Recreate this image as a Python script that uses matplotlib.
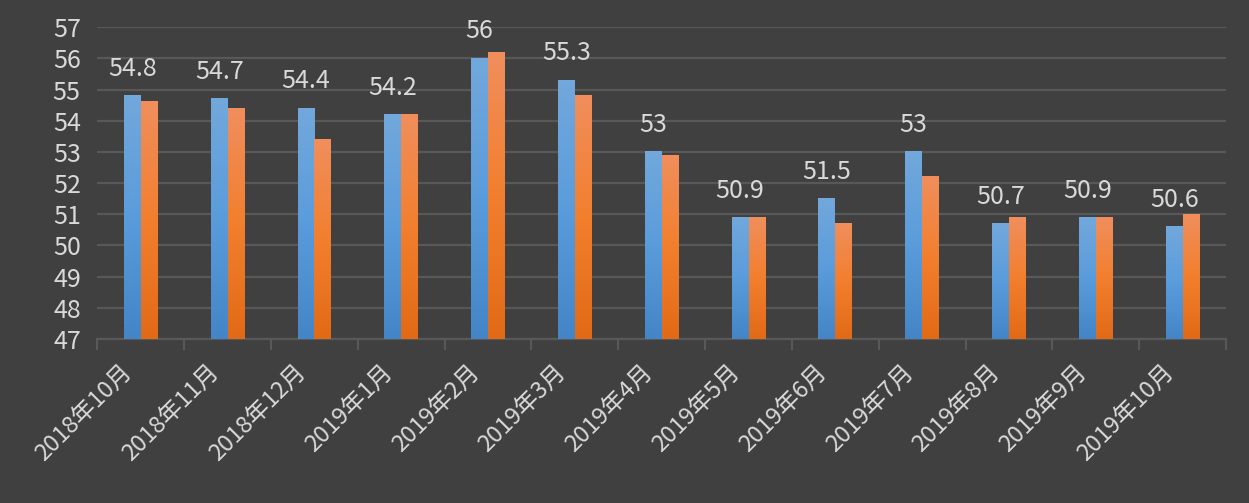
import numpy as np
import matplotlib
matplotlib.use("Agg")
import matplotlib.pyplot as plt
import matplotlib.transforms as mtransforms
from matplotlib.colors import LinearSegmentedColormap

months = ["2018年10月", "2018年11月", "2018年12月", "2019年1月", "2019年2月",
          "2019年3月", "2019年4月", "2019年5月", "2019年6月", "2019年7月",
          "2019年8月", "2019年9月", "2019年10月"]
series_a = [54.8, 54.7, 54.4, 54.2, 56.0, 55.3, 53.0, 50.9, 51.5, 53.0, 50.7, 50.9, 50.6]
series_b = [54.6, 54.4, 53.4, 54.2, 56.2, 54.8, 52.9, 50.9, 50.7, 52.2, 50.9, 50.9, 51.0]
a_labels = ["54.8", "54.7", "54.4", "54.2", "56", "55.3", "53", "50.9", "51.5", "53", "50.7", "50.9", "50.6"]
yticks = list(range(47, 58))

bg = "#404040"
txt = "#d9d9d9"
grid_c = "#585858"
plt.rcParams['font.family'] = ['Noto Sans CJK SC', 'DejaVu Sans']

fig = plt.figure(figsize=(12.49, 5.03), dpi=100, facecolor=bg)
ax = fig.add_axes([0.078, 0.326, 0.9036, 0.620], facecolor=bg)

x = np.arange(len(months))
w = 0.195
bars_a = ax.bar(x - w / 2, series_a, w, bottom=0, color="none", zorder=3)
bars_b = ax.bar(x + w / 2, series_b, w, bottom=0, color="none", zorder=3)

cmap_a = LinearSegmentedColormap.from_list("a", ["#4385c6", "#5a9cdb", "#72a8dc"])
cmap_b = LinearSegmentedColormap.from_list("b", ["#e26a16", "#f27f2e", "#f08e5c"])
grad = np.linspace(0, 1, 100).reshape(-1, 1)


def fill_gradient(bars, cmap):
    for b in bars:
        x0 = b.get_x()
        x1 = x0 + b.get_width()
        ax.imshow(grad, cmap=cmap, origin="lower", aspect="auto",
                  extent=(x0, x1, 47, b.get_height()), zorder=3,
                  interpolation="bilinear")


fill_gradient(bars_a, cmap_a)
fill_gradient(bars_b, cmap_b)

for b, lab in zip(bars_a, a_labels):
    ax.annotate(lab, (b.get_x() + b.get_width() / 2, b.get_height()),
                xytext=(0, 10), textcoords="offset points", ha="center",
                va="bottom", color=txt, fontsize=18)

ax.set_xlim(-0.5, len(months) - 0.5)
ax.set_ylim(47, 57)
ax.set_yticks(yticks)
ax.set_yticklabels([str(v) for v in yticks], color=txt, fontsize=18)
ax.tick_params(axis="y", length=0, pad=12)
ax.yaxis.grid(True, color=grid_c, linewidth=1.6, zorder=0)
ax.set_axisbelow(True)

ax.set_xticks(x)
ax.set_xticklabels(months, rotation=45, ha="right", rotation_mode="anchor",
                   color=txt, fontsize=17)
ax.tick_params(axis="x", length=0, pad=16)
shift = mtransforms.ScaledTranslation(-20 / 100, 0, fig.dpi_scale_trans)
for t in ax.get_xticklabels():
    t.set_transform(t.get_transform() + shift)
ax.set_xticks(np.arange(-0.5, len(months)), minor=True)
ax.tick_params(axis="x", which="minor", length=8, width=1.5, color=grid_c)

for s in ["top", "right", "left"]:
    ax.spines[s].set_visible(False)
ax.spines["bottom"].set_color(grid_c)
ax.spines["bottom"].set_linewidth(1.6)

fig.savefig("out.png", dpi=100, facecolor=bg)
